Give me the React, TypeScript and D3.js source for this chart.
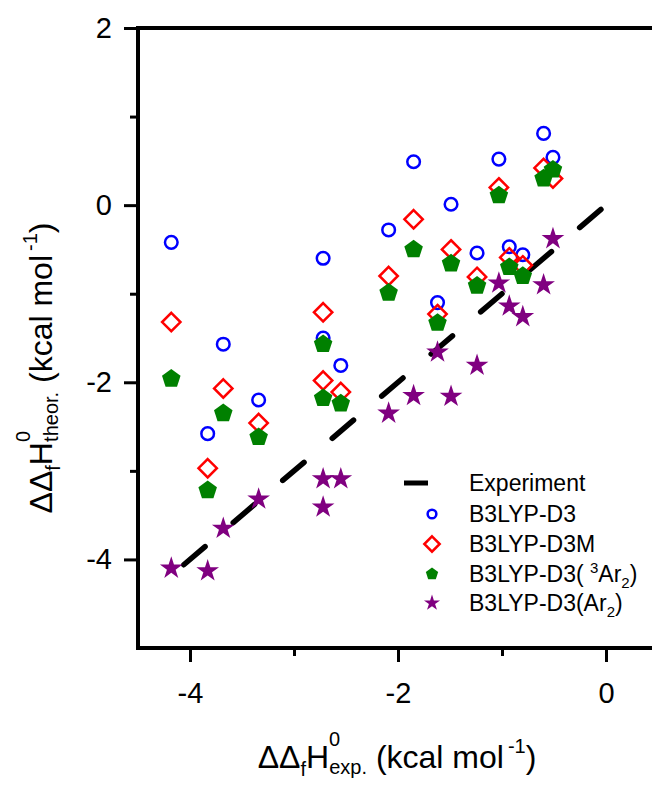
import React, { useRef, useEffect } from 'react';
import * as d3 from 'd3';

// experimental values (x) shared by every series
const expX = [-4.18, -3.83, -3.68, -3.34, -2.72, -2.72, -2.55, -2.09, -1.85, -1.62, -1.49, -1.24, -1.03, -0.93, -0.80, -0.60, -0.51];
const b3lypD3 = [-0.42, -2.58, -1.57, -2.2, -0.6, -1.5, -1.81, -0.28, 0.49, -1.1, 0.01, -0.54, 0.52, -0.47, -0.56, 0.81, 0.54];
const b3lypD3M = [-1.32, -2.97, -2.07, -2.46, -1.21, -1.98, -2.11, -0.8, -0.16, -1.23, -0.5, -0.81, 0.2, -0.59, -0.68, 0.42, 0.3];
const b3lypD3Ar3 = [-1.96, -3.22, -2.35, -2.62, -1.57, -2.18, -2.24, -0.99, -0.5, -1.33, -0.66, -0.91, 0.11, -0.7, -0.8, 0.3, 0.4];
const b3lypD3Ar = [-4.1, -4.13, -3.65, -3.32, -3.09, -3.41, -3.09, -2.35, -2.15, -1.66, -2.16, -1.81, -0.88, -1.14, -1.26, -0.9, -0.38];
// experiment line y = x
const experimentX = [-4.06, 0];

const xMajorTicks = [-4, -2, 0];
const xMinorTicks = [-3, -1];
const yMajorTicks = [-4, -2, 0, 2];
const yMinorTicks = [-3, -1, 1];

const FONT = 'Liberation Sans, Arial, sans-serif';

// filled pentagon, size = r^2
const symbolPentagon = {
    draw(context: any, size: number) {
        const r = Math.sqrt(size);
        for (let i = 0; i < 5; i++) {
            const a = -Math.PI / 2 + (i * 2 * Math.PI) / 5;
            const px = r * Math.cos(a), py = r * Math.sin(a);
            if (i === 0) context.moveTo(px, py);
            else context.lineTo(px, py);
        }
        context.closePath();
    }
};

const App = () => {
    const ref = useRef<SVGSVGElement>(null);

    useEffect(() => {
        const svg = d3.select(ref.current);
        svg.selectAll('*').remove();

        const x = d3.scaleLinear().domain([-4.5, 0.5]).range([138, 658]);
        const y = d3.scaleLinear().domain([-5, 2]).range([648, 28]);

        const series = [
            { name: 'B3LYP-D3', values: b3lypD3, type: d3.symbolCircle, size: 125, fill: 'none', stroke: '#0000ff', lsize: 60 },
            { name: 'B3LYP-D3M', values: b3lypD3M, type: d3.symbolDiamond2, size: 215, fill: 'none', stroke: '#ff0000', lsize: 150 },
            { name: 'B3LYP-D3(3Ar2)', values: b3lypD3Ar3, type: symbolPentagon, size: 95, fill: '#008000', stroke: 'none', lsize: 42 },
            { name: 'B3LYP-D3(Ar2)', values: b3lypD3Ar, type: d3.symbolStar, size: 160, fill: '#800080', stroke: 'none', lsize: 80 },
        ];

        // experiment dashed line
        const line = d3.line<number>().x(d => x(d)).y(d => y(d));
        svg.append('path')
            .attr('d', line(experimentX))
            .attr('fill', 'none')
            .attr('stroke', '#000')
            .attr('stroke-width', 5.5)
            .attr('stroke-linecap', 'round')
            .attr('stroke-dasharray', '28,37');

        // markers
        series.forEach(s => {
            svg.append('g').selectAll('path')
                .data(s.values)
                .enter().append('path')
                .attr('transform', (d, i) => `translate(${x(expX[i])},${y(d)})`)
                .attr('d', d3.symbol().type(s.type as any).size(s.size)())
                .attr('fill', s.fill)
                .attr('stroke', s.stroke)
                .attr('stroke-width', 2.5);
        });

        // frame
        svg.append('rect')
            .attr('x', x(-4.5)).attr('y', y(2))
            .attr('width', x(0.5) - x(-4.5)).attr('height', y(-5) - y(2))
            .attr('fill', 'none').attr('stroke', '#000').attr('stroke-width', 4);

        // axes
        const fmt = (d: any) => String(d);
        const styleAxis = (g: any, fs: number) => {
            g.select('.domain').remove();
            g.selectAll('line').attr('stroke', '#000').attr('stroke-width', 3);
            g.attr('font-size', fs).attr('font-family', FONT);
            g.selectAll('text').attr('fill', '#000');
        };
        svg.append('g').attr('transform', `translate(0,${y(-5)})`)
            .call(d3.axisBottom(x).tickValues(xMajorTicks).tickSize(14).tickPadding(20).tickFormat(fmt))
            .call(g => styleAxis(g, 29));
        svg.append('g').attr('transform', `translate(0,${y(-5)})`)
            .call(d3.axisBottom(x).tickValues(xMinorTicks).tickSize(8).tickFormat(() => ''))
            .call(g => styleAxis(g, 29));
        svg.append('g').attr('transform', `translate(${x(-4.5)},0)`)
            .call(d3.axisLeft(y).tickValues(yMajorTicks).tickSize(14).tickPadding(12).tickFormat(fmt))
            .call(g => styleAxis(g, 29));
        svg.append('g').attr('transform', `translate(${x(-4.5)},0)`)
            .call(d3.axisLeft(y).tickValues(yMinorTicks).tickSize(8).tickFormat(() => ''))
            .call(g => styleAxis(g, 29));

        // axis titles
        const title = (sel: any, sub: string) => {
            const t = sel.append('text')
                .attr('font-family', FONT).attr('font-size', 32)
                .attr('text-anchor', 'middle').attr('fill', '#000');
            t.append('tspan').text('ΔΔ');
            t.append('tspan').attr('font-size', 20).attr('dy', 8).text('f');
            t.append('tspan').attr('dy', -8).text('H');
            t.append('tspan').attr('font-size', 20).attr('dy', -22).text('0');
            t.append('tspan').attr('font-size', 20).attr('dx', -11).attr('dy', 28).text(sub);
            t.append('tspan').attr('dy', -6).text(' (kcal mol');
            t.append('tspan').attr('font-size', 20).attr('dx', 4).attr('dy', -15).text('-1');
            t.append('tspan').attr('dy', 15).text(')');
        };
        title(svg.append('g').attr('transform', 'translate(397,768)'), 'exp.');
        title(svg.append('g').attr('transform', 'translate(52,368) rotate(-90)'), 'theor.');

        // legend
        const lg = svg.append('g').attr('font-family', FONT).attr('font-size', 23);
        const rowY = [483, 514, 544, 574, 603];
        const symX = 432;
        const textX = 469;
        lg.append('line')
            .attr('x1', 404).attr('x2', 428).attr('y1', rowY[0]).attr('y2', rowY[0])
            .attr('stroke', '#000').attr('stroke-width', 5);
        lg.append('text').attr('x', textX).attr('y', rowY[0] + 8).text('Experiment');
        series.forEach((s, i) => {
            const cy = rowY[i + 1];
            lg.append('path')
                .attr('transform', `translate(${symX},${cy})`)
                .attr('d', d3.symbol().type(s.type as any).size(s.lsize)())
                .attr('fill', s.fill)
                .attr('stroke', s.stroke)
                .attr('stroke-width', 2.5);
            const t = lg.append('text').attr('x', textX).attr('y', cy + 8);
            if (i === 2) {
                t.append('tspan').text('B3LYP-D3( ');
                t.append('tspan').attr('font-size', 15).attr('dy', -9).text('3');
                t.append('tspan').attr('dy', 9).text('Ar');
                t.append('tspan').attr('font-size', 15).attr('dy', 6).text('2');
                t.append('tspan').attr('dy', -6).text(')');
            } else if (i === 3) {
                t.append('tspan').text('B3LYP-D3(Ar');
                t.append('tspan').attr('font-size', 15).attr('dy', 6).text('2');
                t.append('tspan').attr('dy', -6).text(')');
            } else {
                t.text(s.name);
            }
        });
    }, []);

    return (
        <svg ref={ref} width={652} height={787}
            style={{ position: 'absolute', left: 0, top: 0, background: '#fff' }}></svg>
    );
};

export default App;
